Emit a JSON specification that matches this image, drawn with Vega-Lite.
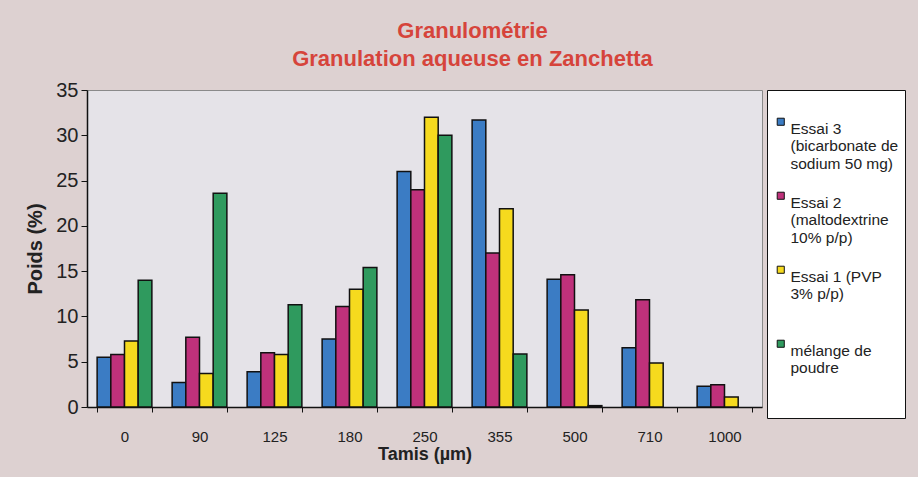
{
  "$schema": "https://vega.github.io/schema/vega-lite/v6.json",
  "width": 675,
  "height": 317,
  "autosize": {"type": "none"},
  "padding": {"left": 87, "top": 90, "right": 156, "bottom": 70},
  "background": "#ddd1d1",
  "title": {
    "text": ["Granulométrie", "Granulation aqueuse en Zanchetta"],
    "font": "Liberation Sans",
    "fontSize": 22,
    "fontWeight": "bold",
    "color": "#d6443b",
    "lineHeight": 28,
    "anchor": "middle",
    "dx": 48,
    "offset": 9
  },
  "data": {
    "values": [
      {"tamis": "0", "serie": "Essai 3", "poids": 5.5},
      {"tamis": "0", "serie": "Essai 2", "poids": 5.8},
      {"tamis": "0", "serie": "Essai 1", "poids": 7.3},
      {"tamis": "0", "serie": "mélange de poudre", "poids": 14.0},
      {"tamis": "90", "serie": "Essai 3", "poids": 2.7},
      {"tamis": "90", "serie": "Essai 2", "poids": 7.7},
      {"tamis": "90", "serie": "Essai 1", "poids": 3.7},
      {"tamis": "90", "serie": "mélange de poudre", "poids": 23.6},
      {"tamis": "125", "serie": "Essai 3", "poids": 3.9},
      {"tamis": "125", "serie": "Essai 2", "poids": 6.0},
      {"tamis": "125", "serie": "Essai 1", "poids": 5.8},
      {"tamis": "125", "serie": "mélange de poudre", "poids": 11.3},
      {"tamis": "180", "serie": "Essai 3", "poids": 7.5},
      {"tamis": "180", "serie": "Essai 2", "poids": 11.1},
      {"tamis": "180", "serie": "Essai 1", "poids": 13.0},
      {"tamis": "180", "serie": "mélange de poudre", "poids": 15.4},
      {"tamis": "250", "serie": "Essai 3", "poids": 26.0},
      {"tamis": "250", "serie": "Essai 2", "poids": 24.0},
      {"tamis": "250", "serie": "Essai 1", "poids": 32.0},
      {"tamis": "250", "serie": "mélange de poudre", "poids": 30.0},
      {"tamis": "355", "serie": "Essai 3", "poids": 31.7},
      {"tamis": "355", "serie": "Essai 2", "poids": 17.0},
      {"tamis": "355", "serie": "Essai 1", "poids": 21.9},
      {"tamis": "355", "serie": "mélange de poudre", "poids": 5.85},
      {"tamis": "500", "serie": "Essai 3", "poids": 14.1},
      {"tamis": "500", "serie": "Essai 2", "poids": 14.6},
      {"tamis": "500", "serie": "Essai 1", "poids": 10.7},
      {"tamis": "500", "serie": "mélange de poudre", "poids": 0.15},
      {"tamis": "710", "serie": "Essai 3", "poids": 6.55},
      {"tamis": "710", "serie": "Essai 2", "poids": 11.85},
      {"tamis": "710", "serie": "Essai 1", "poids": 4.85},
      {"tamis": "1000", "serie": "Essai 3", "poids": 2.3},
      {"tamis": "1000", "serie": "Essai 2", "poids": 2.45},
      {"tamis": "1000", "serie": "Essai 1", "poids": 1.1}
    ]
  },
  "mark": {"type": "bar", "stroke": "#111111", "strokeWidth": 1.5},
  "encoding": {
    "x": {
      "field": "tamis",
      "type": "nominal",
      "sort": ["0", "90", "125", "180", "250", "355", "500", "710", "1000"],
      "scale": {"paddingInner": 0.27, "paddingOuter": 0.135},
      "axis": {
        "title": "Tamis (µm)",
        "labelAngle": 0,
        "tickBand": "extent",
        "tickSize": 5,
        "labelPadding": 17,
        "titlePadding": 1
      }
    },
    "xOffset": {
      "field": "serie",
      "type": "nominal",
      "sort": ["Essai 3", "Essai 2", "Essai 1", "mélange de poudre"],
      "scale": {"paddingInner": 0, "paddingOuter": 0}
    },
    "y": {
      "field": "poids",
      "type": "quantitative",
      "scale": {"domain": [0, 35], "nice": false},
      "axis": {
        "title": "Poids (%)",
        "values": [0, 5, 10, 15, 20, 25, 30, 35],
        "grid": false,
        "tickSize": 6,
        "labelPadding": 3,
        "labelFontSize": 20,
        "titleFontSize": 20,
        "titlePadding": 10
      }
    },
    "color": {
      "field": "serie",
      "type": "nominal",
      "sort": ["Essai 3", "Essai 2", "Essai 1", "mélange de poudre"],
      "scale": {
        "domain": ["Essai 3", "Essai 2", "Essai 1", "mélange de poudre"],
        "range": ["#3b7cc4", "#bf317b", "#f6da1e", "#2f9a5e"]
      },
      "legend": {
        "title": " ",
        "titleFontSize": 10,
        "titlePadding": 8,
        "orient": "right",
        "offset": 5,
        "fillColor": "#ffffff",
        "strokeColor": "#111111",
        "padding": 6,
        "symbolType": "square",
        "symbolSize": 50,
        "symbolStrokeColor": "#111111",
        "symbolStrokeWidth": 1,
        "labelFontSize": 15.5,
        "labelFont": "Liberation Sans",
        "labelColor": "#222222",
        "labelBaseline": "top",
        "labelOffset": 2,
        "rowPadding": 15,
        "labelLimit": 200,
        "labelExpr": "datum.value == 'Essai 3' ? ['Essai 3', '(bicarbonate de', 'sodium 50 mg)'] : datum.value == 'Essai 2' ? ['Essai 2', '(maltodextrine', '10% p/p)'] : datum.value == 'Essai 1' ? ['Essai 1 (PVP', '3% p/p)', ' '] : ['mélange de', 'poudre', ' ', ' ']"
      }
    }
  },
  "config": {
    "font": "Liberation Sans",
    "view": {"fill": "#e5e3e8", "stroke": "#8a8a8a", "strokeWidth": 1},
    "axis": {
      "labelFont": "Liberation Sans",
      "titleFont": "Liberation Sans",
      "labelColor": "#222222",
      "titleColor": "#222222",
      "domainColor": "#111111",
      "tickColor": "#111111",
      "domainWidth": 1.5,
      "labelFontSize": 15,
      "titleFontSize": 18,
      "titleFontWeight": "bold"
    }
  }
}
